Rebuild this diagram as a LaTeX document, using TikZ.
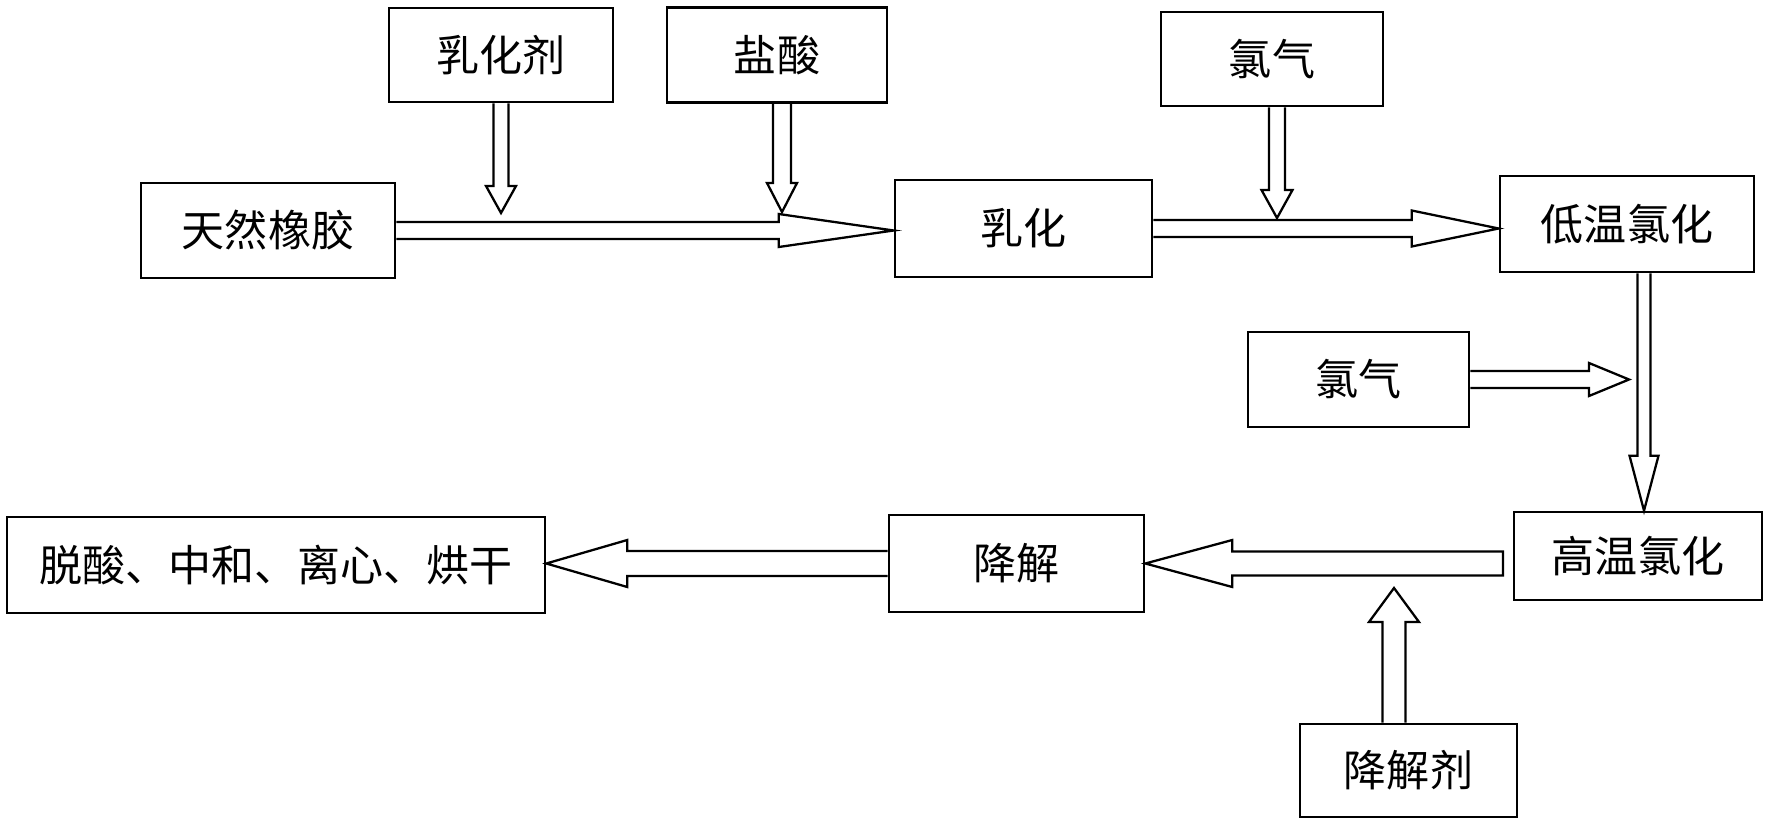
\documentclass[tikz,border=0pt]{standalone}
\usepackage{fontspec}
\newfontfamily\cjk{Noto Sans CJK SC}
\usetikzlibrary{calc}
% #1 start, #2 tip, #3 shaft half width, #4 head half width, #5 head length, #6 closing
\newcommand\blockarrow[6]{%
  \coordinate (ba-h) at ($(#2)!#5!(#1)$);
  \draw[blockarr] ($(#1)!#3!90:(#2)$) -- ($(ba-h)!#3!90:(#2)$) -- ($(ba-h)!#4!90:(#2)$)
     -- (#2) -- ($(ba-h)!#4!-90:(#2)$) -- ($(ba-h)!#3!-90:(#2)$) -- ($(#1)!#3!-90:(#2)$) #6;
}
\begin{document}
\begin{tikzpicture}[x=0.02cm,y=-0.02cm,
  procbox/.style={draw, line width=1.5pt, inner sep=0pt,
    font=\cjk\fontsize{24.5}{24.5}\selectfont},
  blockarr/.style={line width=1.3pt, line join=miter}]
\fill[white] (0,0) rectangle (1778,828);
\useasboundingbox (0,0) rectangle (1778,828);

\node[procbox, minimum width=4.48cm, minimum height=1.88cm] (ruhuaji) at (501,55) {乳化剂};
\node[procbox, minimum width=4.40cm, minimum height=1.90cm] (yansuan) at (777,55) {盐酸};
\node[procbox, minimum width=4.44cm, minimum height=1.88cm] (lq1) at (1272,59) {氯气};
\node[procbox, minimum width=5.08cm, minimum height=1.90cm] (rubber) at (268,230.5) {天然橡胶};
\node[procbox, minimum width=5.14cm, minimum height=1.94cm] (ruhua) at (1023.5,228.5) {乳化};
\node[procbox, minimum width=5.08cm, minimum height=1.92cm] (diwen) at (1627,224) {低温氯化};
\node[procbox, minimum width=4.42cm, minimum height=1.90cm] (lq2) at (1358.5,379.5) {氯气};
\node[procbox, minimum width=4.96cm, minimum height=1.76cm] (gaowen) at (1638,556) {高温氯化};
\node[procbox, minimum width=5.10cm, minimum height=1.94cm] (jiangjie) at (1016.5,563.5) {降解};
\node[procbox, minimum width=10.76cm, minimum height=1.92cm] (tuosuan) at (276,565) {脱酸、中和、离心、烘干};
\node[procbox, minimum width=4.34cm, minimum height=1.86cm] (jjj) at (1408.5,770.5) {降解剂};

% named free ends
\coordinate (s2) at (501,0 |- ruhuaji.south);
\coordinate (t2) at (501,213);
\coordinate (s3) at (782,0 |- yansuan.south);
\coordinate (t3) at (782,212);
\coordinate (s5) at (1277,0 |- lq1.south);
\coordinate (t5) at (1277,218);
\coordinate (s6) at (1644,0 |- diwen.south);
\coordinate (t6) at (1644,0 |- gaowen.north);
\coordinate (t7) at (1629,0 |- lq2.east);
\coordinate (s8) at (1503,0 |- jiangjie.east);
\coordinate (s10) at (1394,0 |- jjj.north);
\coordinate (t10) at (1394,588);
\coordinate (t1) at (rubber.east -| ruhua.west);
\coordinate (t4) at (ruhua.east -| diwen.west);
\coordinate (t9) at (jiangjie.west -| tuosuan.east);

\blockarrow{rubber.east}{t1}{0.17cm}{0.33cm}{2.3cm}{}
\blockarrow{s2}{t2}{0.15cm}{0.30cm}{0.54cm}{}
\blockarrow{s3}{t3}{0.18cm}{0.30cm}{0.58cm}{}
\blockarrow{ruhua.east}{t4}{0.17cm}{0.36cm}{1.74cm}{}
\blockarrow{s5}{t5}{0.16cm}{0.31cm}{0.56cm}{}
\blockarrow{s6}{t6}{0.13cm}{0.29cm}{1.1cm}{}
\blockarrow{lq2.east}{t7}{0.17cm}{0.33cm}{0.8cm}{}
\blockarrow{s8}{jiangjie.east}{0.24cm}{0.47cm}{1.74cm}{-- cycle}
\blockarrow{jiangjie.west}{t9}{0.25cm}{0.47cm}{1.62cm}{}
\blockarrow{s10}{t10}{0.23cm}{0.50cm}{0.68cm}{}
\end{tikzpicture}
\end{document}
